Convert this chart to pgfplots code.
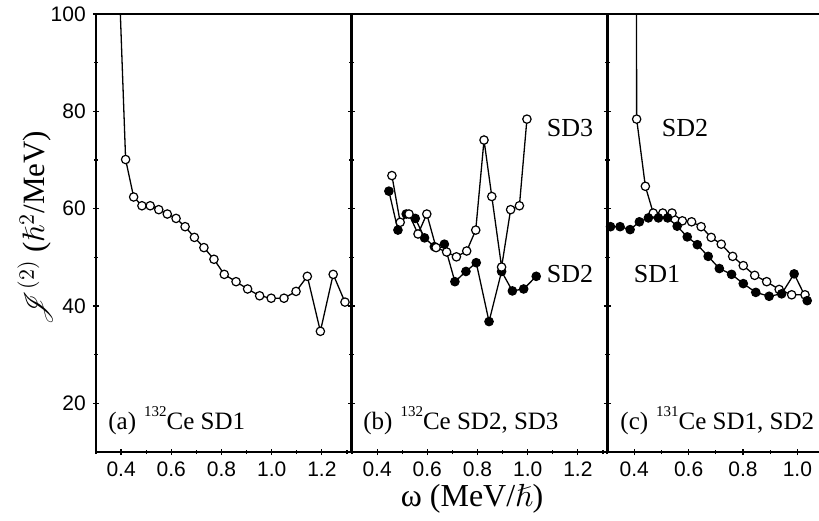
\documentclass[border=0pt]{standalone}
\usepackage{amssymb}
\usepackage{fontspec}
\setmainfont{Liberation Serif}
\newfontfamily\ticksf{Liberation Sans}
\usepackage{mathrsfs}
\usepackage{pgfplots}
\pgfplotsset{compat=1.18}

\pgfplotsset{
  cepanel/.style={
    scale only axis, height=219pt,
    ymin=10, ymax=100, xmin=0.3,
    ytick={20,40,60,80,100}, minor ytick={30,50,70,90},
    xtick={0.4,0.6,0.8,1.0,1.2}, minor xtick={0.3,0.5,0.7,0.9,1.1,1.3},
    xtick pos=left, tick align=center,
    major tick length=3.2pt, minor tick length=2pt,
    every tick/.style={black, line width=0.6pt},
    axis line style={line width=1pt},
    x tick label style={/pgf/number format/.cd, fixed, fixed zerofill, precision=1, /tikz/.cd},
    tick label style={font=\ticksf\fontsize{10.5}{12}\selectfont},
    /pgf/number format/assume math mode=true,
  },
  opn/.style={black, line width=0.65pt, mark=*, mark size=2.1pt,
    mark options={fill=white, line width=0.6pt}},
  fld/.style={black, line width=0.65pt, mark=*, mark size=2.1pt,
    mark options={fill=black, line width=0.6pt}},
}
\tikzset{plabel/.style={anchor=base west, inner sep=0pt, font=\fontsize{12.5}{15}\selectfont}}
\newcommand{\lbl}{\fontsize{13}{15}\selectfont}
\newcommand{\nucl}[1]{\raisebox{6.5pt}{\fontsize{7.5}{8}\selectfont #1}}

\begin{document}
\begin{tikzpicture}
\path[use as bounding box] (0,-34pt) rectangle (409.5pt,226pt);

% (a) 132Ce SD1
\begin{axis}[cepanel, at={(48pt,0pt)}, anchor=south west,
    width=127.5pt, xmax=1.316]
\addplot[opn] coordinates {
  (0.390,110) (0.418,70.1) (0.450,62.4) (0.483,60.6) (0.516,60.6)
  (0.550,59.8) (0.584,58.9) (0.619,58.0) (0.655,56.3) (0.692,54.1)
  (0.730,52.0) (0.770,49.6) (0.811,46.5) (0.858,45.0) (0.904,43.5)
  (0.952,42.1) (0.998,41.6) (1.049,41.6) (1.097,43.0) (1.142,46.1)
  (1.194,34.8) (1.245,46.5) (1.292,40.8)
};
\node[plabel] at (rel axis cs:0.047,0.052)
  {(a)\hspace{4pt}\nucl{132}Ce SD1};
\end{axis}

% (b) 132Ce SD2, SD3
\begin{axis}[cepanel, at={(176pt,0pt)}, anchor=south west,
    width=128pt, xmax=1.32, yticklabels={}]
\addplot[fld] coordinates {
  (0.447,63.6) (0.483,55.6) (0.516,58.9) (0.552,58.0) (0.589,54.0)
  (0.628,52.2) (0.668,52.7) (0.710,45.0) (0.754,47.1) (0.795,48.9)
  (0.846,36.8) (0.896,47.1) (0.939,43.1) (0.984,43.5) (1.034,46.1)
};
\addplot[opn] coordinates {
  (0.459,66.8) (0.492,57.2) (0.527,58.9) (0.563,54.8) (0.598,58.9)
  (0.635,52.0) (0.677,51.1) (0.716,50.1) (0.757,51.3) (0.793,55.6)
  (0.826,74.1) (0.857,62.5) (0.896,48.0) (0.932,59.8) (0.967,60.6)
  (0.997,78.4)
};
\node[font=\lbl] at (axis cs:1.169,76.6) {SD3};
\node[font=\lbl] at (axis cs:1.169,46.5) {SD2};
\node[plabel] at (rel axis cs:0.043,0.052)
  {(b)\hspace{4pt}\nucl{132}Ce SD2, SD3};
\end{axis}

% (c) 131Ce SD1, SD2 -- cut at the right edge as in the original figure
\begin{axis}[cepanel, at={(303.5pt,0pt)}, anchor=south west,
    width=136pt, xmax=1.3, yticklabels={},
    xtick={0.4,0.6,0.8,1.0}, minor xtick={0.3,0.5,0.7,0.9,1.1}]
\addplot[opn] coordinates {
  (0.408,130) (0.409,78.4) (0.441,64.6) (0.470,59.1) (0.505,59.1)
  (0.539,59.1) (0.577,57.5) (0.611,57.3) (0.646,56.3) (0.683,54.1)
  (0.720,52.7) (0.762,50.2) (0.801,48.3) (0.843,46.3) (0.887,45.0)
  (0.933,43.4) (0.979,42.3) (1.028,42.3)
};
\addplot[fld] coordinates {
  (0.313,56.3) (0.348,56.3) (0.385,55.7) (0.419,57.3) (0.452,58.1)
  (0.489,58.1) (0.523,58.1) (0.558,56.4) (0.595,54.2) (0.632,52.6)
  (0.672,50.2) (0.713,47.7) (0.758,46.5) (0.801,44.6) (0.847,42.8)
  (0.896,42.0) (0.942,42.5) (0.988,46.6) (1.036,41.1)
};
\node[font=\lbl] at (axis cs:0.587,76.6) {SD2};
\node[font=\lbl] at (axis cs:0.484,46.5) {SD1};
\node[plabel] at (axis cs:0.348,14.7)
  {(c)\hspace{4pt}\nucl{131}Ce SD1, SD2};
\end{axis}

% axis titles
\node[rotate=90, font=\fontsize{15.5}{18}\selectfont] at (17.5pt,112pt)
  {$\mathscr{J}^{(2)}$ ($\hslash^2$/MeV)};
\node[font=\fontsize{16}{18}\selectfont] at (236pt,-23.5pt)
  {ω (MeV/$\hslash$)};
\end{tikzpicture}
\end{document}
